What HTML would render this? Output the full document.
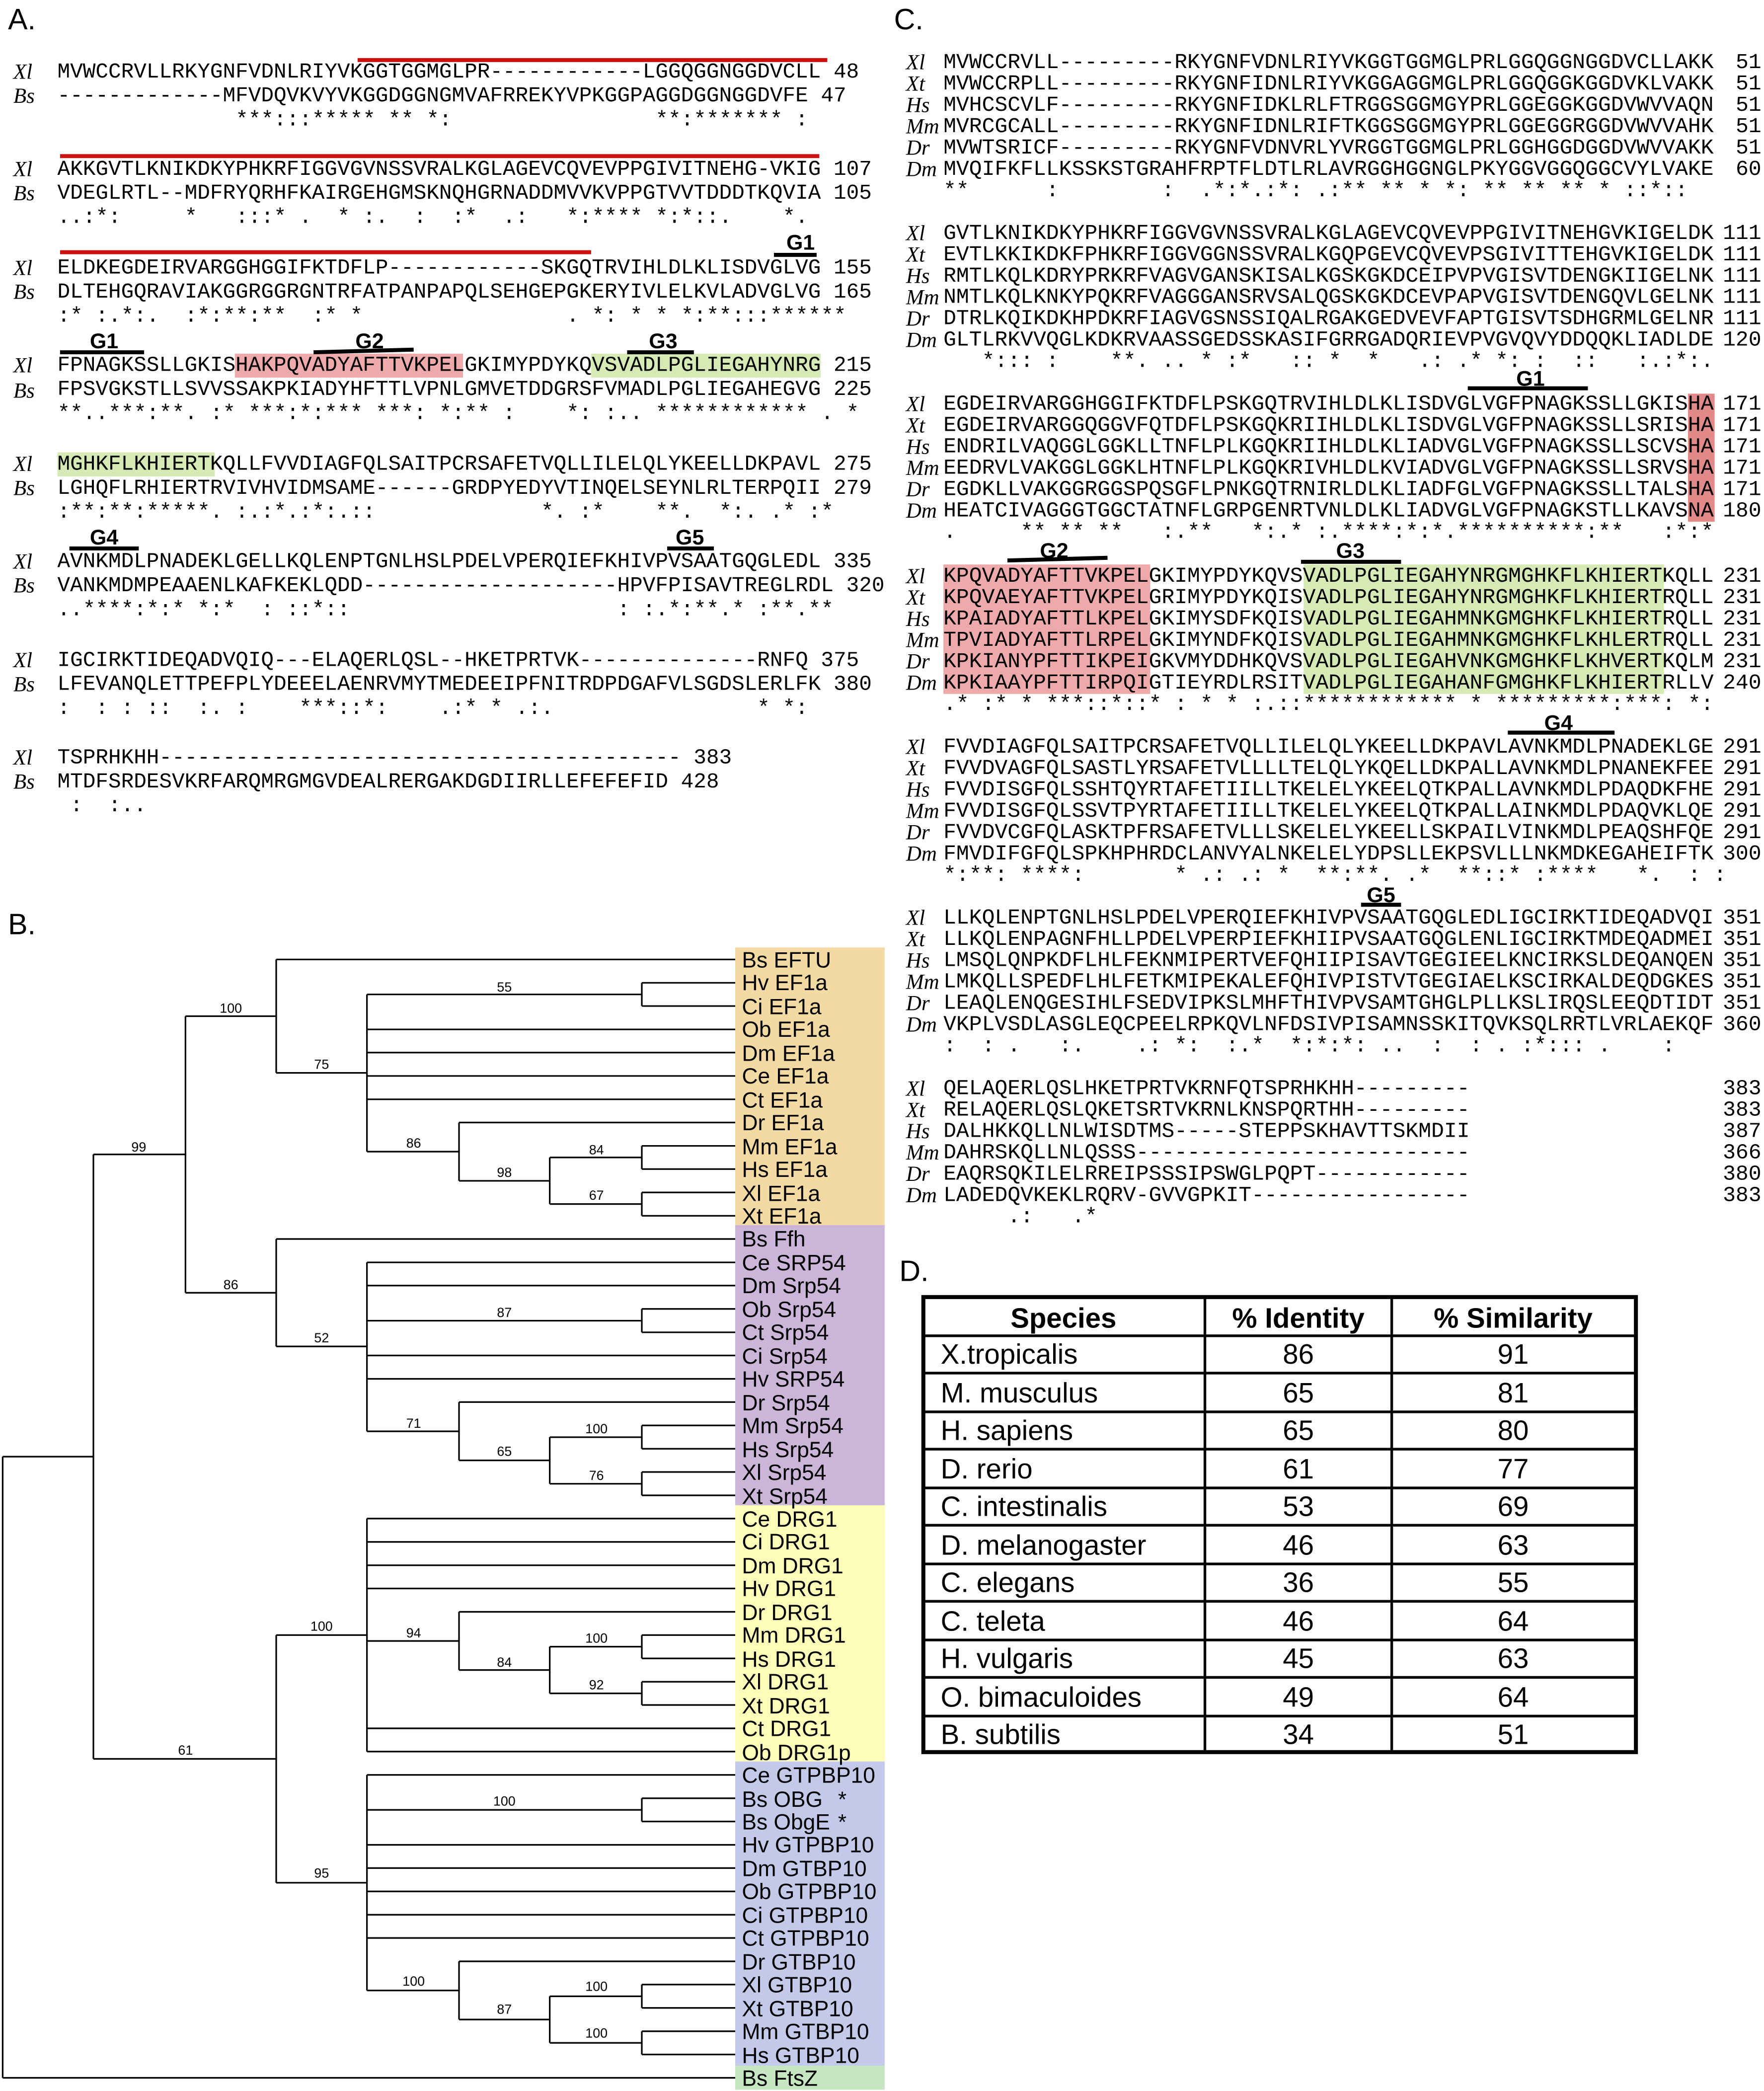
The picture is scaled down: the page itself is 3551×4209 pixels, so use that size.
<!DOCTYPE html>
<html><head><meta charset="utf-8"><style>
html,body{margin:0;padding:0;background:#fff;overflow:hidden}
#w{position:absolute;left:0;top:0;width:1322px;height:1567px;transform:scale(2.6861);transform-origin:0 0}
svg{position:absolute;left:0;top:0;display:block}
pre{position:absolute;margin:0;font-family:"Liberation Mono",monospace;color:#000}
pre.a{font-size:15.9px;line-height:18px;left:43px}
pre.c{font-size:16.05px;line-height:16px;left:707px}
pre.n{font-size:16.05px;line-height:16px;left:1260px;width:60px;text-align:right}
.sp{font-family:"Liberation Serif",serif;font-style:italic;font-size:16px}
.g{font-family:"Liberation Sans",sans-serif;font-weight:bold;font-size:16px;text-anchor:middle}
.lf{font-family:"Liberation Sans",sans-serif;font-size:16.5px}
.bs{font-family:"Liberation Sans",sans-serif;font-size:10px;text-anchor:middle}
.pl{font-family:"Liberation Sans",sans-serif;font-size:22px}
.tb{font-family:"Liberation Sans",sans-serif;font-size:21px;text-anchor:middle}
.tl{font-family:"Liberation Sans",sans-serif;font-size:21px}
.tr line{stroke:#000;stroke-width:1.2}
</style></head><body><div id="w">
<svg width="1322" height="1567" xmlns="http://www.w3.org/2000/svg">
<rect width="1322" height="1567" fill="#fff"/>
<text class="pl" x="6" y="22">A.</text>
<text class="pl" x="670" y="22">C.</text>
<text class="pl" x="6" y="700">B.</text>
<text class="pl" x="674" y="960">D.</text>

<rect x="176" y="265" width="171" height="18" fill="#eeaaaa"/>
<rect x="443" y="265" width="172" height="18" fill="#d5eab5"/>
<rect x="43" y="339" width="118" height="18" fill="#d5eab5"/>
<line x1="268" y1="45" x2="620" y2="45" stroke="#cc1111" stroke-width="3"/>
<line x1="45" y1="117" x2="614" y2="117" stroke="#cc1111" stroke-width="3"/>
<line x1="45" y1="189" x2="443" y2="189" stroke="#cc1111" stroke-width="3"/>
<g stroke="#000" stroke-width="3">
<line x1="580" y1="191" x2="612" y2="191"/><line x1="45" y1="264" x2="108" y2="264"/>
<line x1="235" y1="264" x2="310" y2="262"/><line x1="470" y1="264" x2="520" y2="264"/>
<line x1="52" y1="411" x2="104" y2="411"/><line x1="500" y1="411" x2="535" y2="411"/>
</g>
<text class="g" x="600" y="187">G1</text><text class="g" x="78" y="261">G1</text>
<text class="g" x="277" y="261">G2</text><text class="g" x="497" y="261">G3</text>
<text class="g" x="78" y="408">G4</text><text class="g" x="517" y="408">G5</text>
<g class="sp">
<text x="10" y="59">Xl</text><text x="10" y="77">Bs</text>
<text x="10" y="132">Xl</text><text x="10" y="150">Bs</text>
<text x="10" y="206">Xl</text><text x="10" y="224">Bs</text>
<text x="10" y="279">Xl</text><text x="10" y="298">Bs</text>
<text x="10" y="353">Xl</text><text x="10" y="371">Bs</text>
<text x="10" y="426">Xl</text><text x="10" y="444">Bs</text>
<text x="10" y="500">Xl</text><text x="10" y="518">Bs</text>
<text x="10" y="573">Xl</text><text x="10" y="591">Bs</text>
</g>

<rect x="1265" y="295" width="20" height="96" fill="#e28a8a"/>
<rect x="707" y="423" width="155" height="97" fill="#eeaaaa"/>
<rect x="977" y="423" width="270" height="97" fill="#d5eab5"/>
<g stroke="#000" stroke-width="3">
<line x1="1100" y1="291" x2="1190" y2="291"/><line x1="755" y1="420" x2="830" y2="418"/>
<line x1="975" y1="421" x2="1050" y2="421"/><line x1="1130" y1="549" x2="1210" y2="549"/>
<line x1="1020" y1="678" x2="1050" y2="678"/>
</g>
<text class="g" x="1147" y="289">G1</text><text class="g" x="790" y="418">G2</text>
<text class="g" x="1012" y="418">G3</text><text class="g" x="1168" y="547">G4</text>
<text class="g" x="1035" y="676">G5</text>
<g class="sp">
<text x="679" y="52">Xl</text><text x="679" y="68">Xt</text><text x="679" y="84">Hs</text><text x="679" y="100">Mm</text><text x="679" y="116">Dr</text><text x="679" y="132">Dm</text>
<text x="679" y="180">Xl</text><text x="679" y="196">Xt</text><text x="679" y="212">Hs</text><text x="679" y="228">Mm</text><text x="679" y="244">Dr</text><text x="679" y="260">Dm</text>
<text x="679" y="308">Xl</text><text x="679" y="324">Xt</text><text x="679" y="340">Hs</text><text x="679" y="356">Mm</text><text x="679" y="372">Dr</text><text x="679" y="388">Dm</text>
<text x="679" y="437">Xl</text><text x="679" y="453">Xt</text><text x="679" y="469">Hs</text><text x="679" y="485">Mm</text><text x="679" y="501">Dr</text><text x="679" y="517">Dm</text>
<text x="679" y="565">Xl</text><text x="679" y="581">Xt</text><text x="679" y="597">Hs</text><text x="679" y="613">Mm</text><text x="679" y="629">Dr</text><text x="679" y="645">Dm</text>
<text x="679" y="693">Xl</text><text x="679" y="709">Xt</text><text x="679" y="725">Hs</text><text x="679" y="741">Mm</text><text x="679" y="757">Dr</text><text x="679" y="773">Dm</text>
<text x="679" y="821">Xl</text><text x="679" y="837">Xt</text><text x="679" y="853">Hs</text><text x="679" y="869">Mm</text><text x="679" y="885">Dr</text><text x="679" y="901">Dm</text>
</g>

<rect x="551" y="710" width="112" height="208" fill="#f3d9a2"/>
<rect x="551" y="918" width="112" height="210" fill="#cbb6da"/>
<rect x="551" y="1128" width="112" height="192" fill="#fdfdb9"/>
<rect x="551" y="1320" width="112" height="228" fill="#c3cae9"/>
<rect x="551" y="1548" width="112" height="18" fill="#c6e6c1"/>

<g class="tr">
<line x1="481" y1="736.5" x2="481" y2="753.9"/><line x1="481" y1="736.5" x2="551" y2="736.5"/><line x1="481" y1="753.9" x2="551" y2="753.9"/>
<line x1="275" y1="745.2" x2="481" y2="745.2"/>
<line x1="481" y1="858.7" x2="481" y2="876.1"/><line x1="481" y1="858.7" x2="551" y2="858.7"/><line x1="481" y1="876.1" x2="551" y2="876.1"/>
<line x1="481" y1="893.6" x2="481" y2="911.1"/><line x1="481" y1="893.6" x2="551" y2="893.6"/><line x1="481" y1="911.1" x2="551" y2="911.1"/>
<line x1="412" y1="867.4" x2="412" y2="902.3"/><line x1="412" y1="867.4" x2="481" y2="867.4"/><line x1="412" y1="902.3" x2="481" y2="902.3"/>
<line x1="344" y1="841.2" x2="344" y2="884.9"/><line x1="344" y1="841.2" x2="551" y2="841.2"/><line x1="344" y1="884.9" x2="412" y2="884.9"/>
<line x1="275" y1="745.2" x2="275" y2="863"/><line x1="275" y1="771.4" x2="551" y2="771.4"/><line x1="275" y1="788.8" x2="551" y2="788.8"/><line x1="275" y1="806.3" x2="551" y2="806.3"/><line x1="275" y1="823.8" x2="551" y2="823.8"/><line x1="275" y1="863" x2="344" y2="863"/>
<line x1="207" y1="719" x2="207" y2="804"/><line x1="207" y1="719" x2="551" y2="719"/><line x1="207" y1="804" x2="275" y2="804"/>
<line x1="481" y1="980.9" x2="481" y2="998.4"/><line x1="481" y1="980.9" x2="551" y2="980.9"/><line x1="481" y1="998.4" x2="551" y2="998.4"/>
<line x1="481" y1="1068.2" x2="481" y2="1085.7"/><line x1="481" y1="1068.2" x2="551" y2="1068.2"/><line x1="481" y1="1085.7" x2="551" y2="1085.7"/>
<line x1="481" y1="1103.1" x2="481" y2="1120.6"/><line x1="481" y1="1103.1" x2="551" y2="1103.1"/><line x1="481" y1="1120.6" x2="551" y2="1120.6"/>
<line x1="412" y1="1077" x2="412" y2="1111.9"/><line x1="412" y1="1077" x2="481" y2="1077"/><line x1="412" y1="1111.9" x2="481" y2="1111.9"/>
<line x1="344" y1="1050.7" x2="344" y2="1094.4"/><line x1="344" y1="1050.7" x2="551" y2="1050.7"/><line x1="344" y1="1094.4" x2="412" y2="1094.4"/>
<line x1="275" y1="946" x2="275" y2="1072.6"/><line x1="275" y1="946" x2="551" y2="946"/><line x1="275" y1="963.4" x2="551" y2="963.4"/><line x1="275" y1="989.7" x2="481" y2="989.7"/><line x1="275" y1="1015.8" x2="551" y2="1015.8"/><line x1="275" y1="1033.3" x2="551" y2="1033.3"/><line x1="275" y1="1072.6" x2="344" y2="1072.6"/>
<line x1="207" y1="928.5" x2="207" y2="1009"/><line x1="207" y1="928.5" x2="551" y2="928.5"/><line x1="207" y1="1009" x2="275" y2="1009"/>
<line x1="139" y1="761.5" x2="139" y2="968.8"/><line x1="139" y1="761.5" x2="207" y2="761.5"/><line x1="139" y1="968.8" x2="207" y2="968.8"/>
<line x1="481" y1="1225.3" x2="481" y2="1242.8"/><line x1="481" y1="1225.3" x2="551" y2="1225.3"/><line x1="481" y1="1242.8" x2="551" y2="1242.8"/>
<line x1="481" y1="1260.3" x2="481" y2="1277.7"/><line x1="481" y1="1260.3" x2="551" y2="1260.3"/><line x1="481" y1="1277.7" x2="551" y2="1277.7"/>
<line x1="412" y1="1234" x2="412" y2="1269"/><line x1="412" y1="1234" x2="481" y2="1234"/><line x1="412" y1="1269" x2="481" y2="1269"/>
<line x1="344" y1="1207.9" x2="344" y2="1251.5"/><line x1="344" y1="1207.9" x2="551" y2="1207.9"/><line x1="344" y1="1251.5" x2="412" y2="1251.5"/>
<line x1="275" y1="1138" x2="275" y2="1312.6"/><line x1="275" y1="1138" x2="551" y2="1138"/><line x1="275" y1="1155.5" x2="551" y2="1155.5"/><line x1="275" y1="1173" x2="551" y2="1173"/><line x1="275" y1="1190.4" x2="551" y2="1190.4"/><line x1="275" y1="1229.7" x2="344" y2="1229.7"/><line x1="275" y1="1295.2" x2="551" y2="1295.2"/><line x1="275" y1="1312.6" x2="551" y2="1312.6"/>
<line x1="481" y1="1347.6" x2="481" y2="1365"/><line x1="481" y1="1347.6" x2="551" y2="1347.6"/><line x1="481" y1="1365" x2="551" y2="1365"/>
<line x1="481" y1="1487.2" x2="481" y2="1504.7"/><line x1="481" y1="1487.2" x2="551" y2="1487.2"/><line x1="481" y1="1504.7" x2="551" y2="1504.7"/>
<line x1="481" y1="1522.2" x2="481" y2="1539.6"/><line x1="481" y1="1522.2" x2="551" y2="1522.2"/><line x1="481" y1="1539.6" x2="551" y2="1539.6"/>
<line x1="412" y1="1496" x2="412" y2="1530.9"/><line x1="412" y1="1496" x2="481" y2="1496"/><line x1="412" y1="1530.9" x2="481" y2="1530.9"/>
<line x1="344" y1="1469.8" x2="344" y2="1513.4"/><line x1="344" y1="1469.8" x2="551" y2="1469.8"/><line x1="344" y1="1513.4" x2="412" y2="1513.4"/>
<line x1="275" y1="1330.1" x2="275" y2="1491.6"/><line x1="275" y1="1330.1" x2="551" y2="1330.1"/><line x1="275" y1="1356.3" x2="481" y2="1356.3"/><line x1="275" y1="1382.5" x2="551" y2="1382.5"/><line x1="275" y1="1399.9" x2="551" y2="1399.9"/><line x1="275" y1="1417.4" x2="551" y2="1417.4"/><line x1="275" y1="1434.9" x2="551" y2="1434.9"/><line x1="275" y1="1452.3" x2="551" y2="1452.3"/><line x1="275" y1="1491.6" x2="344" y2="1491.6"/>
<line x1="207" y1="1225.3" x2="207" y2="1410.9"/><line x1="207" y1="1225.3" x2="275" y2="1225.3"/><line x1="207" y1="1410.9" x2="275" y2="1410.9"/>
<line x1="70" y1="865.1" x2="70" y2="1318.1"/><line x1="70" y1="865.1" x2="139" y2="865.1"/><line x1="70" y1="1318.1" x2="207" y2="1318.1"/>
<line x1="2" y1="1091.6" x2="2" y2="1557.1"/><line x1="2" y1="1091.6" x2="70" y2="1091.6"/><line x1="2" y1="1557.1" x2="551" y2="1557.1"/>
</g>
<g class="bs">
<text x="378" y="743">55</text><text x="241" y="801">75</text><text x="310" y="860">86</text><text x="378" y="882">98</text><text x="447" y="865">84</text><text x="447" y="899">67</text><text x="173" y="759">100</text>
<text x="378" y="987">87</text><text x="310" y="1070">71</text><text x="378" y="1091">65</text><text x="447" y="1074">100</text><text x="447" y="1109">76</text><text x="241" y="1006">52</text><text x="173" y="966">86</text><text x="104" y="863">99</text>
<text x="447" y="1231">100</text><text x="447" y="1266">92</text><text x="378" y="1249">84</text><text x="310" y="1227">94</text><text x="241" y="1222">100</text>
<text x="378" y="1353">100</text><text x="447" y="1492">100</text><text x="447" y="1527">100</text><text x="378" y="1509">87</text><text x="310" y="1488">100</text><text x="241" y="1407">95</text><text x="139" y="1315">61</text>
</g>
<g class="lf">
<text x="556" y="725">Bs EFTU</text><text x="556" y="742">Hv EF1a</text><text x="556" y="760">Ci EF1a</text><text x="556" y="777">Ob EF1a</text><text x="556" y="795">Dm EF1a</text><text x="556" y="812">Ce EF1a</text><text x="556" y="830">Ct EF1a</text><text x="556" y="847">Dr EF1a</text><text x="556" y="865">Mm EF1a</text><text x="556" y="882">Hs EF1a</text><text x="556" y="900">Xl EF1a</text><text x="556" y="917">Xt EF1a</text>
<text x="556" y="934">Bs Ffh</text><text x="556" y="952">Ce SRP54</text><text x="556" y="969">Dm Srp54</text><text x="556" y="987">Ob Srp54</text><text x="556" y="1004">Ct Srp54</text><text x="556" y="1022">Ci Srp54</text><text x="556" y="1039">Hv SRP54</text><text x="556" y="1057">Dr Srp54</text><text x="556" y="1074">Mm Srp54</text><text x="556" y="1092">Hs Srp54</text><text x="556" y="1109">Xl Srp54</text><text x="556" y="1127">Xt Srp54</text>
<text x="556" y="1144">Ce DRG1</text><text x="556" y="1161">Ci DRG1</text><text x="556" y="1179">Dm DRG1</text><text x="556" y="1196">Hv DRG1</text><text x="556" y="1214">Dr DRG1</text><text x="556" y="1231">Mm DRG1</text><text x="556" y="1249">Hs DRG1</text><text x="556" y="1266">Xl DRG1</text><text x="556" y="1284">Xt DRG1</text><text x="556" y="1301">Ct DRG1</text><text x="556" y="1319">Ob DRG1p</text>
<text x="556" y="1336">Ce GTPBP10</text><text x="556" y="1354">Bs OBG</text><text x="628" y="1354">*</text><text x="556" y="1371">Bs ObgE</text><text x="628" y="1371">*</text><text x="556" y="1388">Hv GTPBP10</text><text x="556" y="1406">Dm GTBP10</text><text x="556" y="1423">Ob GTPBP10</text><text x="556" y="1441">Ci GTPBP10</text><text x="556" y="1458">Ct GTPBP10</text><text x="556" y="1476">Dr GTBP10</text><text x="556" y="1493">Xl GTBP10</text><text x="556" y="1511">Xt GTBP10</text><text x="556" y="1528">Mm GTBP10</text><text x="556" y="1546">Hs GTBP10</text>
<text x="556" y="1563">Bs FtsZ</text>
</g>

<g stroke="#000" fill="none">
<rect x="692" y="972" width="534" height="341" stroke-width="3"/>
<line x1="903" y1="972" x2="903" y2="1313" stroke-width="2"/>
<line x1="1043" y1="972" x2="1043" y2="1313" stroke-width="2"/>
<line x1="692" y1="1001" x2="1226" y2="1001" stroke-width="2"/>
<line x1="692" y1="1029" x2="1226" y2="1029" stroke-width="2"/>
<line x1="692" y1="1058" x2="1226" y2="1058" stroke-width="2"/>
<line x1="692" y1="1086" x2="1226" y2="1086" stroke-width="2"/>
<line x1="692" y1="1115" x2="1226" y2="1115" stroke-width="2"/>
<line x1="692" y1="1143" x2="1226" y2="1143" stroke-width="2"/>
<line x1="692" y1="1172" x2="1226" y2="1172" stroke-width="2"/>
<line x1="692" y1="1200" x2="1226" y2="1200" stroke-width="2"/>
<line x1="692" y1="1229" x2="1226" y2="1229" stroke-width="2"/>
<line x1="692" y1="1257" x2="1226" y2="1257" stroke-width="2"/>
<line x1="692" y1="1286" x2="1226" y2="1286" stroke-width="2"/>
</g>
<g class="tb">
<text x="797" y="995" font-weight="bold">Species</text><text x="973" y="995" font-weight="bold">% Identity</text><text x="1134" y="995" font-weight="bold">% Similarity</text>
<text x="973" y="1022">86</text><text x="1134" y="1022">91</text>
<text x="973" y="1051">65</text><text x="1134" y="1051">81</text>
<text x="973" y="1079">65</text><text x="1134" y="1079">80</text>
<text x="973" y="1108">61</text><text x="1134" y="1108">77</text>
<text x="973" y="1136">53</text><text x="1134" y="1136">69</text>
<text x="973" y="1165">46</text><text x="1134" y="1165">63</text>
<text x="973" y="1193">36</text><text x="1134" y="1193">55</text>
<text x="973" y="1222">46</text><text x="1134" y="1222">64</text>
<text x="973" y="1250">45</text><text x="1134" y="1250">63</text>
<text x="973" y="1279">49</text><text x="1134" y="1279">64</text>
<text x="973" y="1307">34</text><text x="1134" y="1307">51</text>
</g>
<g class="tl">
<text x="705" y="1022">X.tropicalis</text><text x="705" y="1051">M. musculus</text><text x="705" y="1079">H. sapiens</text><text x="705" y="1108">D. rerio</text><text x="705" y="1136">C. intestinalis</text><text x="705" y="1165">D. melanogaster</text><text x="705" y="1193">C. elegans</text><text x="705" y="1222">C. teleta</text><text x="705" y="1250">H. vulgaris</text><text x="705" y="1279">O. bimaculoides</text><text x="705" y="1307">B. subtilis</text>
</g>
</svg>

<pre class="a" style="top:44.8px">MVWCCRVLLRKYGNFVDNLRIYVKGGTGGMGLPR------------LGGQGGNGGDVCLL 48
-------------MFVDQVKVYVKGGDGGNGMVAFRREKYVPKGGPAGGDGGNGGDVFE 47
              ***:::***** ** *:                **:******* :</pre>
<pre class="a" style="top:117.8px">AKKGVTLKNIKDKYPHKRFIGGVGVNSSVRALKGLAGEVCQVEVPPGIVITNEHG-VKIG 107
VDEGLRTL--MDFRYQRHFKAIRGEHGMSKNQHGRNADDMVVKVPPGTVVTDDDTKQVIA 105
..:*:     *   :::* .  * :.  :  :*  .:   *:**** *:*::.    *.</pre>
<pre class="a" style="top:191.8px">ELDKEGDEIRVARGGHGGIFKTDFLP------------SKGQTRVIHLDLKLISDVGLVG 155
DLTEHGQRAVIAKGGRGGRGNTRFATPANPAPQLSEHGEPGKERYIVLELKVLADVGLVG 165
:* :.*:.  :*:**:**  :* *                . *: * * *:**:::******</pre>
<pre class="a" style="top:264.8px">FPNAGKSSLLGKISHAKPQVADYAFTTVKPELGKIMYPDYKQVSVADLPGLIEGAHYNRG 215
FPSVGKSTLLSVVSSAKPKIADYHFTTLVPNLGMVETDDGRSFVMADLPGLIEGAHEGVG 225
**..***:**. :* ***:*:*** ***: *:** :    *: :.. ************ . *</pre>
<pre class="a" style="top:338.8px">MGHKFLKHIERTKQLLFVVDIAGFQLSAITPCRSAFETVQLLILELQLYKEELLDKPAVL 275
LGHQFLRHIERTRVIVHVIDMSAME------GRDPYEDYVTINQELSEYNLRLTERPQII 279
:**:**:*****. :.:*.:*:.::             *. :*    **.  *:. .* :*</pre>
<pre class="a" style="top:411.8px">AVNKMDLPNADEKLGELLKQLENPTGNLHSLPDELVPERQIEFKHIVPVSAATGQGLEDL 335
VANKMDMPEAAENLKAFKEKLQDD--------------------HPVFPISAVTREGLRDL 320
..****:*:* *:*  : ::*::                     : :.*:**.* :**.**</pre>
<pre class="a" style="top:485.8px">IGCIRKTIDEQADVQIQ---ELAQERLQSL--HKETPRTVK--------------RNFQ 375
LFEVANQLETTPEFPLYDEEELAENRVMYTMEDEEIPFNITRDPDGAFVLSGDSLERLFK 380
:  : : ::  :. :    ***::*:    .:* * .:.                * *:</pre>
<pre class="a" style="top:558.8px">TSPRHKHH----------------------------------------- 383
MTDFSRDESVKRFARQMRGMGVDEALRERGAKDGDIIRLLEFEFEFID 428
 :  :..</pre>

<pre class="c" style="top:38.7px">MVWCCRVLL---------RKYGNFVDNLRIYVKGGTGGMGLPRLGGQGGNGGDVCLLAKK
MVWCCRPLL---------RKYGNFIDNLRIYVKGGAGGMGLPRLGGQGGKGGDVKLVAKK
MVHCSCVLF---------RKYGNFIDKLRLFTRGGSGGMGYPRLGGEGGKGGDVWVVAQN
MVRCGCALL---------RKYGNFIDNLRIFTKGGSGGMGYPRLGGEGGRGGDVWVVAHK
MVWTSRICF---------RKYGNFVDNVRLYVRGGTGGMGLPRLGGHGGDGGDVWVVAKK
MVQIFKFLLKSSKSTGRAHFRPTFLDTLRLAVRGGHGGNGLPKYGGVGGQGGCVYLVAKE
**      :        :  .*:*.:*: .:** ** * *: ** ** ** * ::*::</pre>
<pre class="n" style="top:38.7px">51
51
51
51
51
60</pre>
<pre class="c" style="top:166.7px">GVTLKNIKDKYPHKRFIGGVGVNSSVRALKGLAGEVCQVEVPPGIVITNEHGVKIGELDK
EVTLKKIKDKFPHKRFIGGVGGNSSVRALKGQPGEVCQVEVPSGIVITTEHGVKIGELDK
RMTLKQLKDRYPRKRFVAGVGANSKISALKGSKGKDCEIPVPVGISVTDENGKIIGELNK
NMTLKQLKNKYPQKRFVAGGGANSRVSALQGSKGKDCEVPAPVGISVTDENGQVLGELNK
DTRLKQIKDKHPDKRFIAGVGSNSSIQALRGAKGEDVEVFAPTGISVTSDHGRMLGELNR
GLTLRKVVQGLKDKRVAASSGEDSSKASIFGRRGADQRIEVPVGVQVYDDQQKLIADLDE
   *::: :    **. .. * :*   :: *  *   .: .* *: :  ::   :.:*:.</pre>
<pre class="n" style="top:166.7px">111
111
111
111
111
120</pre>
<pre class="c" style="top:294.7px">EGDEIRVARGGHGGIFKTDFLPSKGQTRVIHLDLKLISDVGLVGFPNAGKSSLLGKISHA
EGDEIRVARGGQGGVFQTDFLPSKGQKRIIHLDLKLISDVGLVGFPNAGKSSLLSRISHA
ENDRILVAQGGLGGKLLTNFLPLKGQKRIIHLDLKLIADVGLVGFPNAGKSSLLSCVSHA
EEDRVLVAKGGLGGKLHTNFLPLKGQKRIVHLDLKVIADVGLVGFPNAGKSSLLSRVSHA
EGDKLLVAKGGRGGSPQSGFLPNKGQTRNIRLDLKLIADFGLVGFPNAGKSSLLTALSHA
HEATCIVAGGGTGGCTATNFLGRPGENRTVNLDLKLIADVGLVGFPNAGKSTLLKAVSNA
.     ** ** **   :.**   *:.* :.****:*:*.**********:**   :*:*</pre>
<pre class="n" style="top:294.7px">171
171
171
171
171
180</pre>
<pre class="c" style="top:423.7px">KPQVADYAFTTVKPELGKIMYPDYKQVSVADLPGLIEGAHYNRGMGHKFLKHIERTKQLL
KPQVAEYAFTTVKPELGRIMYPDYKQISVADLPGLIEGAHYNRGMGHKFLKHIERTRQLL
KPAIADYAFTTLKPELGKIMYSDFKQISVADLPGLIEGAHMNKGMGHKFLKHIERTRQLL
TPVIADYAFTTLRPELGKIMYNDFKQISVADLPGLIEGAHMNKGMGHKFLKHLERTRQLL
KPKIANYPFTTIKPEIGKVMYDDHKQVSVADLPGLIEGAHVNKGMGHKFLKHVERTKQLM
KPKIAAYPFTTIRPQIGTIEYRDLRSITVADLPGLIEGAHANFGMGHKFLKHIERTRLLV
.* :* * ***::*::* : * * :.::************ * *********:***: *:</pre>
<pre class="n" style="top:423.7px">231
231
231
231
231
240</pre>
<pre class="c" style="top:551.7px">FVVDIAGFQLSAITPCRSAFETVQLLILELQLYKEELLDKPAVLAVNKMDLPNADEKLGE
FVVDVAGFQLSASTLYRSAFETVLLLLTELQLYKQELLDKPALLAVNKMDLPNANEKFEE
FVVDISGFQLSSHTQYRTAFETIILLTKELELYKEELQTKPALLAVNKMDLPDAQDKFHE
FVVDISGFQLSSVTPYRTAFETIILLTKELELYKEELQTKPALLAINKMDLPDAQVKLQE
FVVDVCGFQLASKTPFRSAFETVLLLSKELELYKEELLSKPAILVINKMDLPEAQSHFQE
FMVDIFGFQLSPKHPHRDCLANVYALNKELELYDPSLLEKPSVLLLNKMDKEGAHEIFTK
*:**: ****:       * .: .: *  **:**. .*  **::* :****   *.  : :</pre>
<pre class="n" style="top:551.7px">291
291
291
291
291
300</pre>
<pre class="c" style="top:679.7px">LLKQLENPTGNLHSLPDELVPERQIEFKHIVPVSAATGQGLEDLIGCIRKTIDEQADVQI
LLKQLENPAGNFHLLPDELVPERPIEFKHIIPVSAATGQGLENLIGCIRKTMDEQADMEI
LMSQLQNPKDFLHLFEKNMIPERTVEFQHIIPISAVTGEGIEELKNCIRKSLDEQANQEN
LMKQLLSPEDFLHLFETKMIPEKALEFQHIVPISTVTGEGIAELKSCIRKALDEQDGKES
LEAQLENQGESIHLFSEDVIPKSLMHFTHIVPVSAMTGHGLPLLKSLIRQSLEEQDTIDT
VKPLVSDLASGLEQCPEELRPKQVLNFDSIVPISAMNSSKITQVKSQLRRTLVRLAEKQF
:  : .   :.    .: *:  :.*  *:*:*: ..  :  : . :*::: .    :</pre>
<pre class="n" style="top:679.7px">351
351
351
351
351
360</pre>
<pre class="c" style="top:807.7px">QELAQERLQSLHKETPRTVKRNFQTSPRHKHH---------
RELAQERLQSLQKETSRTVKRNLKNSPQRTHH---------
DALHKKQLLNLWISDTMS-----STEPPSKHAVTTSKMDII
DAHRSKQLLNLQSSS--------------------------
EAQRSQKILELRREIPSSSIPSWGLPQPT------------
LADEDQVKEKLRQRV-GVVGPKIT-----------------
     .:   .*</pre>
<pre class="n" style="top:807.7px">383
383
387
366
380
383</pre>
</div></body></html>
